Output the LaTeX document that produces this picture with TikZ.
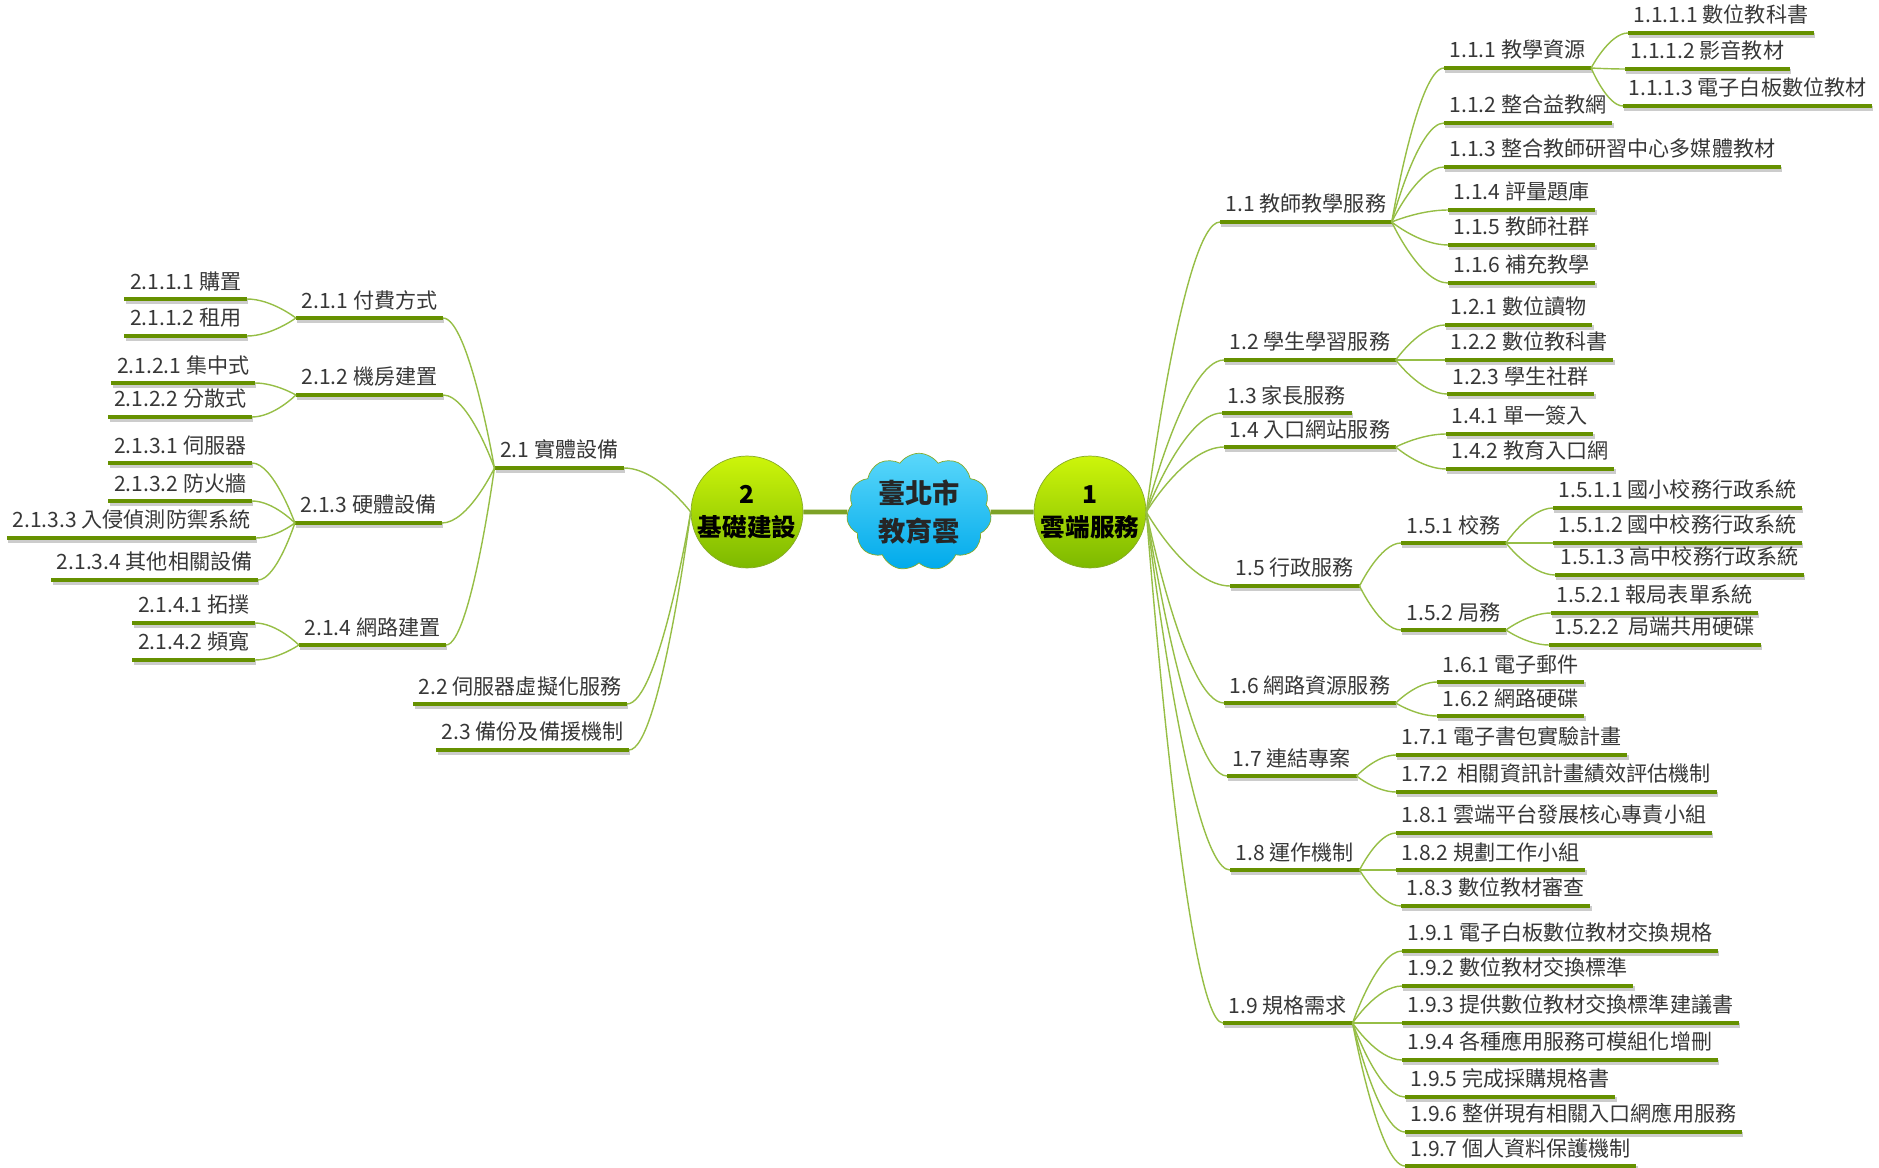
\documentclass[tikz,border=0pt]{standalone}
\usepackage{fontspec}
\setmainfont{Noto Sans CJK TC}
\usepackage{tikz}
\usetikzlibrary{shapes.symbols,calc}
\definecolor{mmolive}{RGB}{102,145,0}
\definecolor{mmlime}{RGB}{150,190,70}
\definecolor{mmtext}{RGB}{55,55,55}
\definecolor{mmgreentop}{RGB}{205,245,10}
\definecolor{mmgreenbot}{RGB}{125,185,0}
\definecolor{mmgreenline}{RGB}{135,170,40}
\definecolor{mmskytop}{RGB}{90,215,250}
\definecolor{mmskybot}{RGB}{0,170,235}
\newcommand{\topicsize}{\fontsize{12}{14}\selectfont}
\tikzstyle{ushade} = [draw=black!20, line width=2.8pt, transform canvas={xshift=0.8pt,yshift=-1.2pt}]
\tikzstyle{ubar} = [draw=mmolive, line width=2.8pt]
\tikzstyle{topic} = [font=\topicsize, text=mmtext, inner xsep=3pt, inner ysep=4.5pt,
  append after command={(\tikzlastnode.south west) edge[ushade] (\tikzlastnode.south east)
    (\tikzlastnode.south west) edge[ubar] (\tikzlastnode.south east)}]
\tikzstyle{rtopic} = [topic, anchor=south west]
\tikzstyle{ltopic} = [topic, anchor=south east]
\tikzstyle{twig} = [draw=mmlime, line width=0.8pt]
\tikzstyle{trunk} = [draw=mmolive!85, line width=2.8pt]
\tikzstyle{hub} = [circle, minimum size=2.2cm, inner sep=0pt, align=center, draw=mmgreenline, thin, top color=mmgreentop, bottom color=mmgreenbot, font=\fontsize{14}{19}\selectfont\bfseries, text=black]
\tikzstyle{cloudhub} = [cloud, cloud puffs=11, cloud puff arc=110, aspect=1.3, minimum width=2.9cm, minimum height=2.35cm, inner sep=0pt, align=center, draw=mmgreenline, thin, top color=mmskytop, bottom color=mmskybot, font=\fontsize{15.5}{22}\selectfont\bfseries, text=black!85]
\newcommand{\twig}[2]{\draw[twig] let \p1=(#1), \p2=(#2) in (\p1) .. controls (\p1) and ({(\x1+\x2)/2},\y2) .. (\p2);}

\begin{document}
\begin{tikzpicture}[x=0.02cm,y=-0.02cm]
\useasboundingbox (0,0) rectangle (1879,1168);

\node[hub] (c2) at (747,512) {2\\基礎建設};
\node[cloudhub] (c0) at (919,512) {臺北市\\教育雲};
\node[hub] (c1) at (1090,512) {1\\雲端服務};
\draw[trunk] (c2) -- (c0);
\draw[trunk] (c0) -- (c1);

\node[rtopic] (n11) at (1220,222) {1.1 教師教學服務};
\node[rtopic] (n111) at (1444,68) {1.1.1 教學資源};
\node[rtopic] (n1111) at (1628,33) {1.1.1.1 數位教科書};
\node[rtopic] (n1112) at (1625,69) {1.1.1.2 影音教材};
\node[rtopic] (n1113) at (1623,106) {1.1.1.3 電子白板數位教材};
\node[rtopic] (n112) at (1444,123) {1.1.2 整合益教網};
\node[rtopic] (n113) at (1444,167) {1.1.3 整合教師研習中心多媒體教材};
\node[rtopic] (n114) at (1448,210) {1.1.4 評量題庫};
\node[rtopic] (n115) at (1448,245) {1.1.5 教師社群};
\node[rtopic] (n116) at (1448,283) {1.1.6 補充教學};
\node[rtopic] (n12) at (1224,360) {1.2 學生學習服務};
\node[rtopic] (n121) at (1445,325) {1.2.1 數位讀物};
\node[rtopic] (n122) at (1445,360) {1.2.2 數位教科書};
\node[rtopic] (n123) at (1447,394) {1.2.3 學生社群};
\node[rtopic] (n13) at (1222,413) {1.3 家長服務};
\node[rtopic] (n14) at (1224,447) {1.4 入口網站服務};
\node[rtopic] (n141) at (1446,434) {1.4.1 單一簽入};
\node[rtopic] (n142) at (1446,469) {1.4.2 教育入口網};
\node[rtopic] (n15) at (1230,586) {1.5 行政服務};
\node[rtopic] (n151) at (1401,543) {1.5.1 校務};
\node[rtopic] (n1511) at (1553,508) {1.5.1.1 國小校務行政系統};
\node[rtopic] (n1512) at (1553,543) {1.5.1.2 國中校務行政系統};
\node[rtopic] (n1513) at (1555,575) {1.5.1.3 高中校務行政系統};
\node[rtopic] (n152) at (1401,630) {1.5.2 局務};
\node[rtopic] (n1521) at (1551,613) {1.5.2.1 報局表單系統};
\node[rtopic] (n1522) at (1549,645) {1.5.2.2\ \ 局端共用硬碟};
\node[rtopic] (n16) at (1224,703) {1.6 網路資源服務};
\node[rtopic] (n161) at (1437,682) {1.6.1 電子郵件};
\node[rtopic] (n162) at (1437,716) {1.6.2 網路硬碟};
\node[rtopic] (n17) at (1227,776) {1.7 連結專案};
\node[rtopic] (n171) at (1396,755) {1.7.1 電子書包實驗計畫};
\node[rtopic] (n172) at (1396,792) {1.7.2\ \ 相關資訊計畫績效評估機制};
\node[rtopic] (n18) at (1230,870) {1.8 運作機制};
\node[rtopic] (n181) at (1396,833) {1.8.1 雲端平台發展核心專責小組};
\node[rtopic] (n182) at (1396,870) {1.8.2 規劃工作小組};
\node[rtopic] (n183) at (1401,906) {1.8.3 數位教材審查};
\node[rtopic] (n19) at (1223,1023) {1.9 規格需求};
\node[rtopic] (n191) at (1402,951) {1.9.1 電子白板數位教材交換規格};
\node[rtopic] (n192) at (1402,986) {1.9.2 數位教材交換標準};
\node[rtopic] (n193) at (1402,1023) {1.9.3 提供數位教材交換標準建議書};
\node[rtopic] (n194) at (1402,1060) {1.9.4 各種應用服務可模組化增刪};
\node[rtopic] (n195) at (1405,1097) {1.9.5 完成採購規格書};
\node[rtopic] (n196) at (1405,1132) {1.9.6 整併現有相關入口網應用服務};
\node[rtopic] (n197) at (1405,1166) {1.9.7 個人資料保護機制};

\node[ltopic] (n21) at (624,468) {2.1 實體設備};
\node[ltopic] (n211) at (443,318) {2.1.1 付費方式};
\node[ltopic] (n2111) at (247,299) {2.1.1.1 購置};
\node[ltopic] (n2112) at (247,336) {2.1.1.2 租用};
\node[ltopic] (n212) at (443,395) {2.1.2 機房建置};
\node[ltopic] (n2121) at (255,383) {2.1.2.1 集中式};
\node[ltopic] (n2122) at (252,417) {2.1.2.2 分散式};
\node[ltopic] (n213) at (442,523) {2.1.3 硬體設備};
\node[ltopic] (n2131) at (252,463) {2.1.3.1 伺服器};
\node[ltopic] (n2132) at (252,501) {2.1.3.2 防火牆};
\node[ltopic] (n2133) at (256,538) {2.1.3.3 入侵偵測防禦系統};
\node[ltopic] (n2134) at (258,580) {2.1.3.4 其他相關設備};
\node[ltopic] (n214) at (446,645) {2.1.4 網路建置};
\node[ltopic] (n2141) at (255,623) {2.1.4.1 拓撲};
\node[ltopic] (n2142) at (255,660) {2.1.4.2 頻寬};
\node[ltopic] (n22) at (627,704) {2.2 伺服器虛擬化服務};
\node[ltopic] (n23) at (629,750) {2.3 備份及備援機制};

\foreach \b in {n11,n12,n13,n14,n15,n16,n17,n18,n19}
  \twig{c1.east}{\b.south west};
\foreach \a/\b in {n11/n111,n11/n112,n11/n113,n11/n114,n11/n115,n11/n116,
  n111/n1111,n111/n1112,n111/n1113,n12/n121,n12/n122,n12/n123,n14/n141,n14/n142,
  n15/n151,n15/n152,n151/n1511,n151/n1512,n151/n1513,n152/n1521,n152/n1522,
  n16/n161,n16/n162,n17/n171,n17/n172,n18/n181,n18/n182,n18/n183,
  n19/n191,n19/n192,n19/n193,n19/n194,n19/n195,n19/n196,n19/n197}
  \twig{\a.south east}{\b.south west};
\foreach \b in {n21,n22,n23}
  \twig{c2.west}{\b.south east};
\foreach \a/\b in {n21/n211,n21/n212,n21/n213,n21/n214,n211/n2111,n211/n2112,
  n212/n2121,n212/n2122,n213/n2131,n213/n2132,n213/n2133,n213/n2134,
  n214/n2141,n214/n2142}
  \twig{\a.south west}{\b.south east};
\end{tikzpicture}
\end{document}
